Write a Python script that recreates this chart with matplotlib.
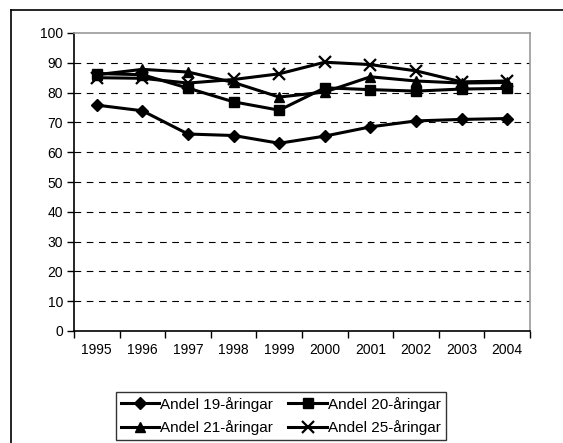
import matplotlib
matplotlib.use("Agg")
import matplotlib.pyplot as plt
from matplotlib.lines import Line2D

plt.rcParams['font.family'] = ['Liberation Sans', 'DejaVu Sans']

years = ['1995', '1996', '1997', '1998', '1999', '2000', '2001', '2002', '2003', '2004']
andel19 = [75.8, 73.9, 66.1, 65.6, 63.0, 65.4, 68.5, 70.5, 71.0, 71.3]
andel20 = [86.4, 86.0, 81.5, 76.9, 74.1, 81.6, 81.0, 80.5, 81.2, 81.4]
andel21 = [86.0, 87.8, 86.9, 83.4, 78.5, 80.2, 85.3, 83.9, 83.2, 83.4]
andel25 = [85.0, 84.8, 83.2, 84.4, 86.3, 90.2, 89.4, 87.3, 83.6, 83.9]
labels = ['Andel 19-åringar', 'Andel 20-åringar', 'Andel 21-åringar', 'Andel 25-åringar']

fig = plt.figure(figsize=(5.63, 4.43), dpi=100)
ax = fig.add_axes([74/563, 1-331/443, 456/563, 298/443])

x = list(range(len(years)))
series = [andel19, andel20, andel21, andel25]
markers = ['D', 's', '^', 'x']
msizes = [6, 7, 7, 9]
handles = []
for vals, m, ms, lab in zip(series, markers, msizes, labels):
    h, = ax.plot(x, vals, color='black', lw=2.2, marker=m, ms=ms, mew=1.6 if m == 'x' else 1,
                 label=lab, clip_on=False)
    handles.append(h)

ax.set_xlim(-0.5, 9.5)
ax.set_ylim(0, 100)
ax.set_yticks(range(0, 101, 10))
for g in range(10, 100, 10):
    ax.axhline(g, color='black', lw=0.8, ls=(0, (6, 5)), zorder=0)

ax.set_xticks(x)
ax.set_xticklabels(years)
ax.set_xticks([i - 0.5 for i in range(11)], minor=True)
ax.tick_params(axis='x', which='major', length=0, pad=9, labelsize=10)
ax.tick_params(axis='x', which='minor', length=5, width=1, direction='out')
ax.tick_params(axis='y', length=5, width=1, direction='out', labelsize=10, pad=3)

for side in ['top', 'right']:
    ax.spines[side].set_color('#999999')
    ax.spines[side].set_linewidth(1.2)
for side in ['left', 'bottom']:
    ax.spines[side].set_color('black')
    ax.spines[side].set_linewidth(1.2)

order = [0, 2, 1, 3]
leg = fig.legend([handles[i] for i in order], [labels[i] for i in order],
                 loc='upper left', bbox_to_anchor=(116/563, 1-392/443), ncol=2,
                 frameon=True, fancybox=False, edgecolor='black', fontsize=11,
                 handlelength=2.5, handletextpad=0.1, columnspacing=1.0,
                 borderpad=0.3, labelspacing=0.55, borderaxespad=0)
leg.get_frame().set_linewidth(1.0)

# outer chart frame (partially visible)
fig.add_artist(Line2D([11/563, 11/563], [0, 1-10/443], color='black', lw=1.2,
                      transform=fig.transFigure))
fig.add_artist(Line2D([11/563, 1], [1-10/443, 1-10/443], color='black', lw=1.2,
                      transform=fig.transFigure))

fig.savefig('out.png', dpi=100)
